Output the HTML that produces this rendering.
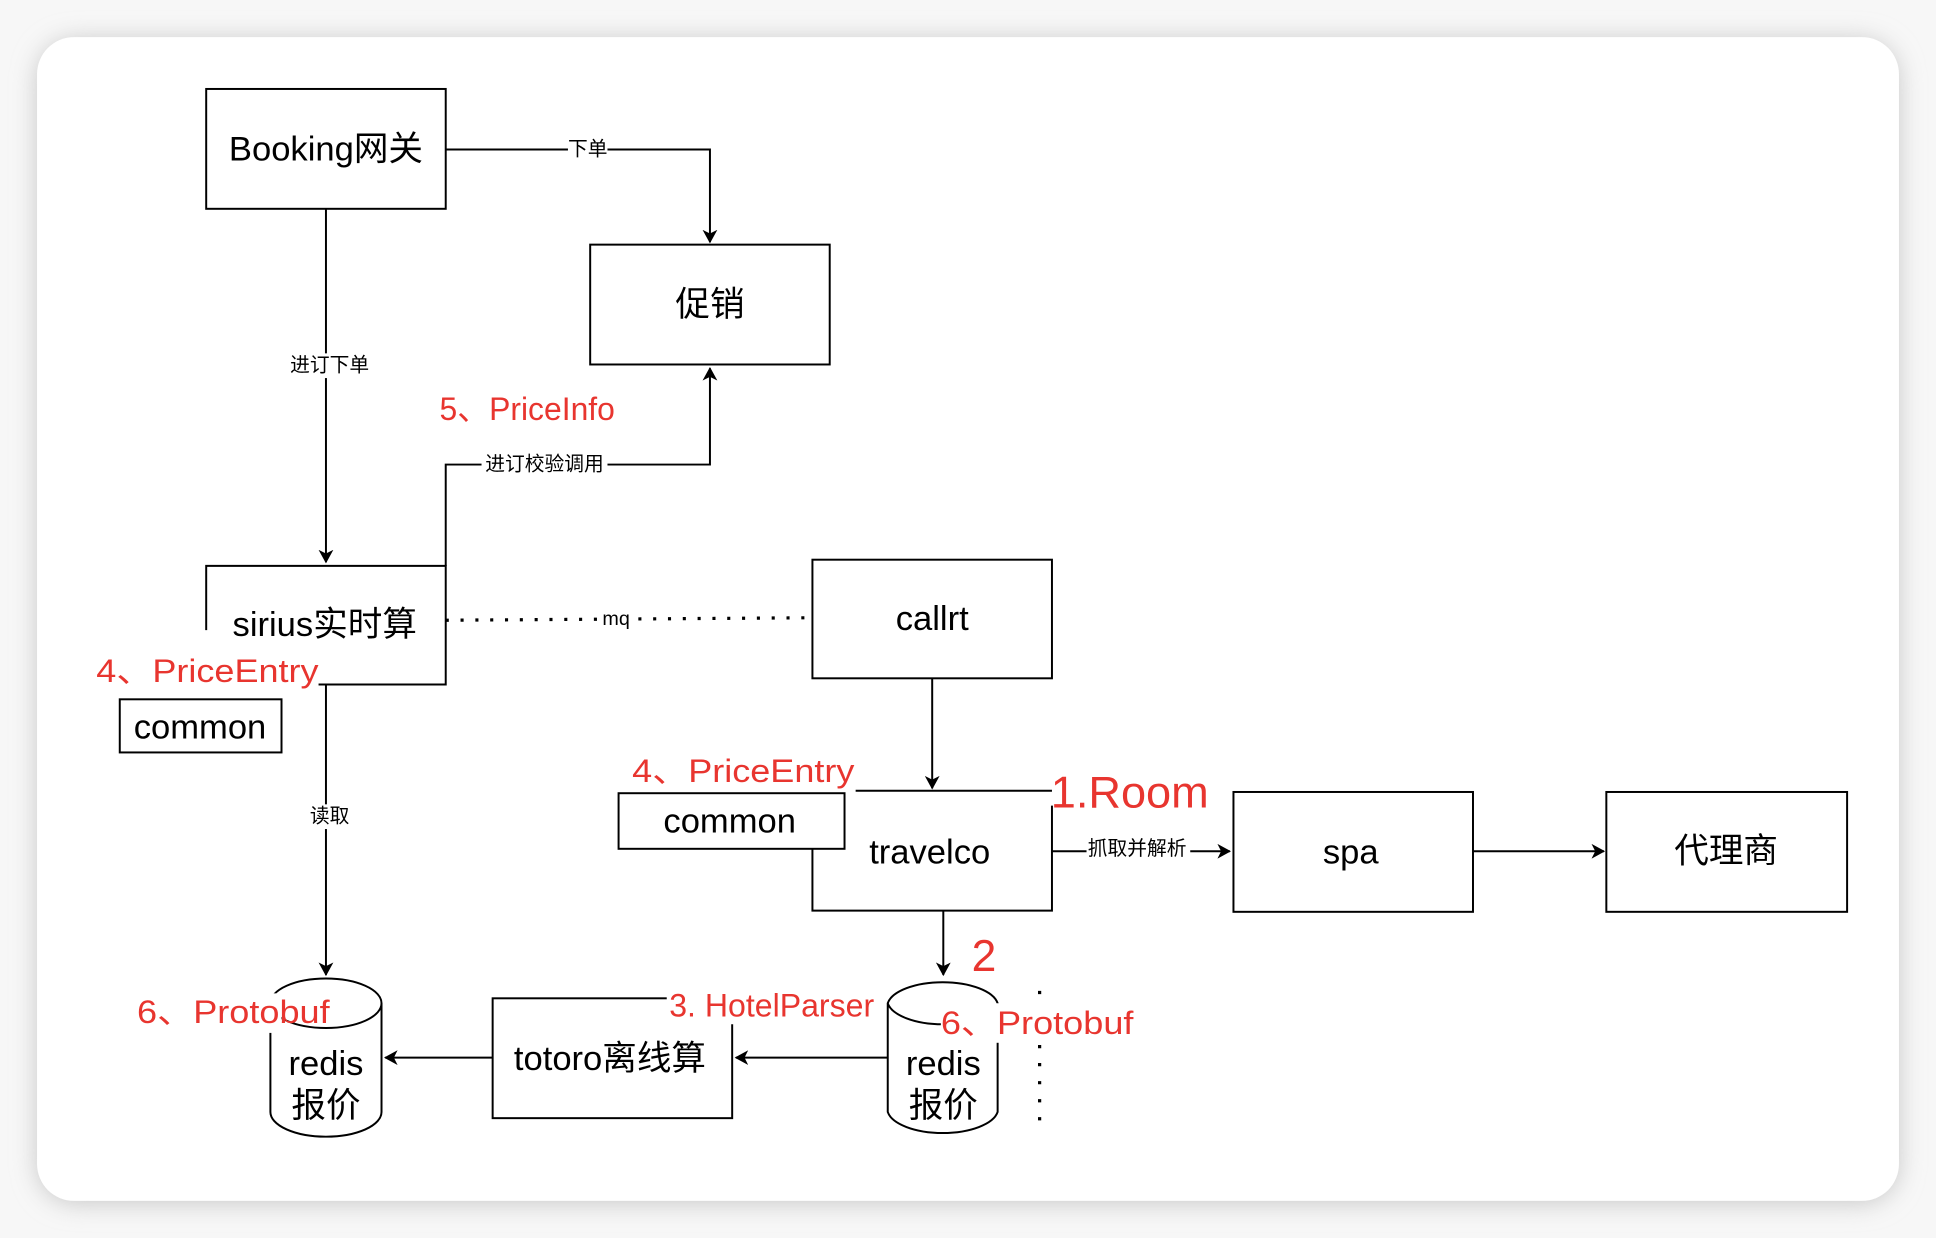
<!DOCTYPE html>
<html><head><meta charset="utf-8"><style>
html,body{margin:0;padding:0;width:1936px;height:1238px;overflow:hidden;background:#fafafa}
svg{display:block}
text{font-family:"Liberation Sans","Noto Sans CJK SC",sans-serif}
</style></head><body>
<svg width="1936" height="1238" viewBox="0 0 1568 1002" preserveAspectRatio="none" xmlns="http://www.w3.org/2000/svg">
<defs>
<filter id="sh" x="-10%" y="-10%" width="120%" height="120%"><feGaussianBlur stdDeviation="10"/></filter>
<marker id="ar" markerWidth="12" markerHeight="12" refX="10" refY="6" orient="auto" markerUnits="userSpaceOnUse"><path d="M0,0 L11,6 L0,12 L3,6 Z" fill="#000"/></marker>
</defs>
<rect x="0" y="0" width="1568" height="1002" fill="#f7f7f7"/>
<rect x="30" y="32" width="1508" height="942" rx="32" fill="#c8c8c8" filter="url(#sh)"/>
<rect x="30" y="30" width="1508" height="942" rx="30" fill="#fff"/>
<g fill="none" stroke="#000" stroke-width="1.6">
<rect x="167" y="72" width="194" height="97"/>
<rect x="478" y="198" width="194" height="97"/>
<path d="M167,510 L167,458 L361,458 L361,554 L258,554"/>
<rect x="658" y="453" width="194" height="96"/>
<path d="M693,640 L852,640 M852,652 L852,737 L658,737 L658,687"/>
<rect x="999" y="641" width="194" height="97"/>
<rect x="1301" y="641" width="195" height="97"/>
<rect x="399" y="808" width="194" height="97"/>
<rect x="97" y="566" width="131" height="43"/>
<rect x="501" y="642" width="183" height="45"/>
<path d="M361,121 L575,121 L575,196" marker-end="url(#ar)"/>
<path d="M264,169 L264,455" marker-end="url(#ar)"/>
<path d="M361,458 L361,376 L575,376 L575,298" marker-end="url(#ar)"/>
<path d="M361,502 L657,500" stroke-dasharray="2.5,9.5" stroke-width="2.6"/>
<path d="M755,549 L755,638" marker-end="url(#ar)"/>
<path d="M852,689 L996,689" marker-end="url(#ar)"/>
<path d="M1193,689 L1299,689" marker-end="url(#ar)"/>
<path d="M764,737 L764,789" marker-end="url(#ar)"/>
<path d="M264,554 L264,789" marker-end="url(#ar)"/>
<path d="M719,856 L596,856" marker-end="url(#ar)"/>
<path d="M399,856 L312,856" marker-end="url(#ar)"/>
<path d="M842,802 L842,912" stroke-dasharray="2.6,12" stroke-width="2.6"/>
<path d="M219,812 L219,900 A45,20 0 0 0 309,900 L309,812 A45,20 0 0 0 219,812 A45,20 0 0 0 309,812"/>
<path d="M719,812 L719,900 A45,20 0 0 0 808,900 L808,812 A45,20 0 0 0 719,812 A45,20 0 0 0 808,812"/>
</g>
<g fill="#fff">
<rect x="460" y="111" width="32" height="20"/>
<rect x="234" y="286" width="66" height="20"/>
<rect x="390" y="366" width="102" height="20"/>
<rect x="487" y="491" width="24" height="20"/>
<rect x="880" y="677" width="84" height="20"/>
<rect x="251" y="651" width="32" height="20"/>
<rect x="110" y="804" width="118" height="32"/>
<rect x="540" y="799" width="170" height="30"/>
<rect x="762" y="812" width="160" height="32"/>
<rect x="355" y="316" width="145" height="30"/>
</g>
<g font-size="28" text-anchor="middle" fill="#000" dominant-baseline="central">
<text x="264" y="121">Booking网关</text>
<text x="575" y="247">促销</text>
<text x="263" y="506">sirius实时算</text>
<text x="755" y="501">callrt</text>
<text x="753" y="690">travelco</text>
<text x="1094" y="690">spa</text>
<text x="1398" y="689">代理商</text>
<text x="494" y="857">totoro离线算</text>
<text x="162" y="589">common</text>
<text x="591" y="665">common</text>
<text x="264" y="861">redis</text>
<text x="264" y="895">报价</text>
<text x="764" y="861">redis</text>
<text x="764" y="895">报价</text>
</g>
<g font-size="16" text-anchor="middle" fill="#000" dominant-baseline="central">
<text x="476" y="121">下单</text>
<text x="267" y="296">进订下单</text>
<text x="441" y="376">进订校验调用</text>
<text x="499" y="501">mq</text>
<text x="921" y="687">抓取并解析</text>
<text x="267" y="661">读取</text>
</g>
<g font-size="26" text-anchor="middle" fill="#e8352f" dominant-baseline="central">
<text x="427" y="331" textLength="142" lengthAdjust="spacingAndGlyphs">5、PriceInfo</text>
<text x="168" y="543" textLength="180" lengthAdjust="spacingAndGlyphs">4、PriceEntry</text>
<text x="602" y="624" textLength="180" lengthAdjust="spacingAndGlyphs">4、PriceEntry</text>
<text x="189" y="819" textLength="156" lengthAdjust="spacingAndGlyphs">6、Protobuf</text>
<text x="625" y="814" textLength="166" lengthAdjust="spacingAndGlyphs">3. HotelParser</text>
<text x="840" y="828" textLength="156" lengthAdjust="spacingAndGlyphs">6、Protobuf</text>
<text x="915" y="642" font-size="36" textLength="128" lengthAdjust="spacingAndGlyphs">1.Room</text>
<text x="797" y="774" font-size="36">2</text>
</g>
</svg>
</body></html>
